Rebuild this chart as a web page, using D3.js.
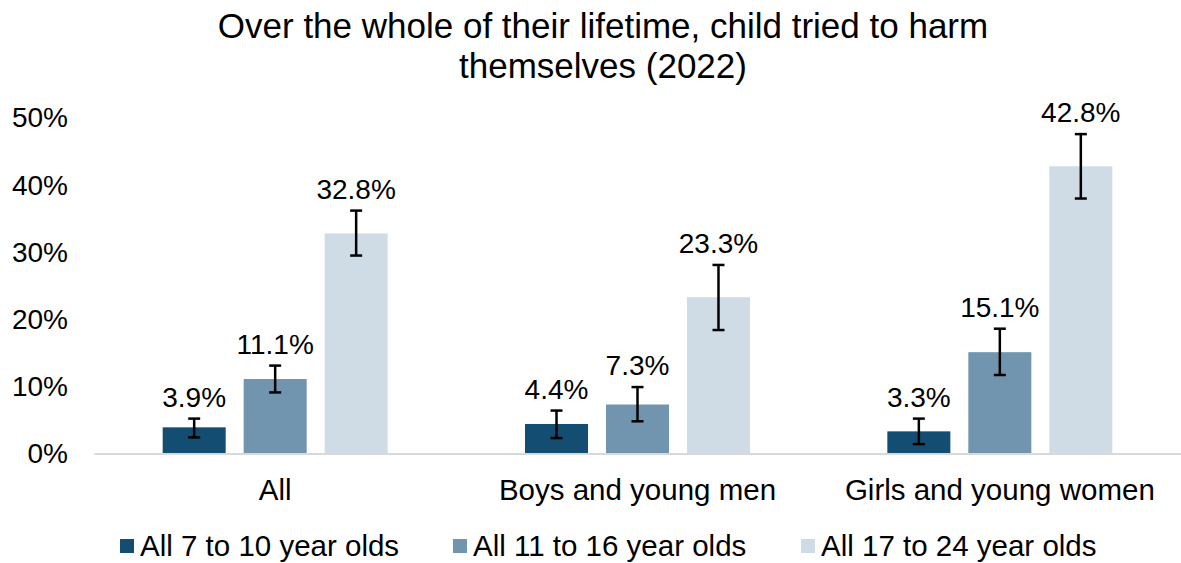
<!DOCTYPE html>
<html>
<head>
<meta charset="utf-8">
<script src="https://cdn.jsdelivr.net/npm/d3@7"></script>
<style>
  html, body { margin: 0; padding: 0; background: #fff; }
  svg { display: block; font-family: "Liberation Sans", Arial, sans-serif; }
</style>
</head>
<body>
<svg id="chart" width="1181" height="563"></svg>
<script>
const titleLines = ["Over the whole of their lifetime, child tried to harm", "themselves (2022)"];
const categories = ["All", "Boys and young men", "Girls and young women"];
const seriesNames = ["All 7 to 10 year olds", "All 11 to 16 year olds", "All 17 to 24 year olds"];
const values7to10 = [3.9, 4.4, 3.3];
const values11to16 = [11.1, 7.3, 15.1];
const values17to24 = [32.8, 23.3, 42.8];
const errLow7to10 = [2.4, 2.3, 1.4];
const errHigh7to10 = [5.2, 6.4, 5.2];
const errLow11to16 = [9.1, 4.8, 11.7];
const errHigh11to16 = [13.1, 9.9, 18.6];
const errLow17to24 = [29.5, 18.4, 38.0];
const errHigh17to24 = [36.2, 28.1, 47.6];
const yTicks = [0, 10, 20, 30, 40, 50];
const colors = ["#134e72", "#7195ae", "#cfdce5"];

const seriesValues = [values7to10, values11to16, values17to24];
const seriesLow = [errLow7to10, errLow11to16, errLow17to24];
const seriesHigh = [errHigh7to10, errHigh11to16, errHigh17to24];

const svg = d3.select("#chart");
const margin = { left: 94, right: 0, top: 118, bottom: 109 };
const W = 1181, H = 563;

const x0 = d3.scaleBand().domain(categories).range([margin.left, W - margin.right]).padding(0);
const x1 = d3.scaleBand().domain(seriesNames).range([0, x0.bandwidth()]).paddingInner(0.222).paddingOuter(0.848);
const y = d3.scaleLinear().domain([0, 50]).range([H - margin.bottom - 0.5, margin.top]);

// title
svg.append("text")
  .attr("x", 603).attr("y", 38)
  .attr("text-anchor", "middle")
  .attr("font-size", 35).attr("fill", "#000")
  .selectAll("tspan").data(titleLines).join("tspan")
  .attr("x", 603).attr("dy", (d, i) => i === 0 ? 0 : 40)
  .text(d => d);

// y axis labels
const yAxis = d3.axisLeft(y).tickValues(yTicks).tickFormat(d => d + "%").tickSize(0).tickPadding(0);
const gy = svg.append("g").attr("transform", "translate(68,0)").call(yAxis);
gy.select(".domain").remove();
gy.selectAll("text").attr("font-size", 28).attr("fill", "#000")
  .attr("font-family", "'Liberation Sans', Arial, sans-serif");

// data table
const rows = [];
categories.forEach((c, ci) => {
  seriesNames.forEach((s, si) => {
    rows.push({ cat: c, series: s, si, value: seriesValues[si][ci], lo: seriesLow[si][ci], hi: seriesHigh[si][ci] });
  });
});

// bars
svg.append("g").selectAll("rect").data(rows).join("rect")
  .attr("x", d => x0(d.cat) + x1(d.series))
  .attr("y", d => y(d.value))
  .attr("width", x1.bandwidth())
  .attr("height", d => y(0) - y(d.value))
  .attr("fill", d => colors[d.si]);

// x axis line
const xAxis = d3.axisBottom(x0).tickSize(0).tickPadding(0);
const gx = svg.append("g").attr("transform", `translate(0,${y(0)})`).call(xAxis);
gx.select(".domain").attr("stroke", "#d9d9d9").attr("stroke-width", 2);
gx.selectAll("text").attr("font-size", 29.5).attr("fill", "#000").attr("dy", 0).attr("y", 46)
  .attr("font-family", "'Liberation Sans', Arial, sans-serif");

// error bars
const eb = svg.append("g").attr("stroke", "#000").attr("stroke-width", 2.5);
const cx = d => x0(d.cat) + x1(d.series) + x1.bandwidth() / 2;
eb.selectAll("line.v").data(rows).join("line").attr("class", "v")
  .attr("x1", cx).attr("x2", cx).attr("y1", d => y(d.lo)).attr("y2", d => y(d.hi));
eb.selectAll("line.t").data(rows).join("line").attr("class", "t")
  .attr("x1", d => cx(d) - 6).attr("x2", d => cx(d) + 6).attr("y1", d => y(d.hi)).attr("y2", d => y(d.hi));
eb.selectAll("line.b").data(rows).join("line").attr("class", "b")
  .attr("x1", d => cx(d) - 6).attr("x2", d => cx(d) + 6).attr("y1", d => y(d.lo)).attr("y2", d => y(d.lo));

// data labels
svg.append("g").selectAll("text").data(rows).join("text")
  .attr("x", cx)
  .attr("y", d => y(d.hi) - 12)
  .attr("text-anchor", "middle")
  .attr("font-size", 28).attr("fill", "#000")
  .text(d => d.value.toFixed(1) + "%");

// legend
const legendX = [120, 453, 801];
const lg = svg.append("g");
seriesNames.forEach((s, i) => {
  const g = lg.append("g").attr("transform", `translate(${legendX[i]},0)`);
  g.append("rect").attr("x", 0).attr("y", 539).attr("width", 14).attr("height", 14).attr("fill", colors[i]);
  g.append("text").attr("x", 20).attr("y", 556).attr("font-size", 29.5).attr("fill", "#000").text(s);
});
</script>
</body>
</html>
